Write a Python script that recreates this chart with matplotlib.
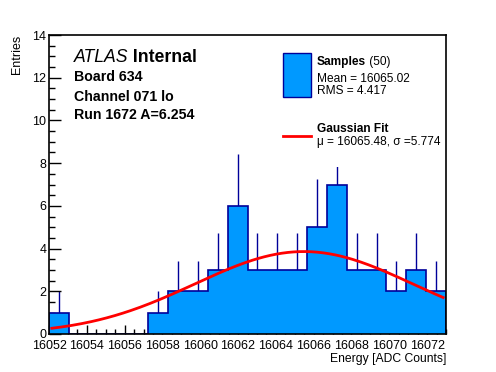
import numpy as np
import matplotlib
matplotlib.use("Agg")
import matplotlib.pyplot as plt
from matplotlib.patches import Rectangle
from matplotlib.lines import Line2D
from matplotlib.ticker import MultipleLocator

plt.rcParams["font.family"] = ["Liberation Sans", "DejaVu Sans"]

# ---- data ----
x_low, x_high, n_bins = 16052, 16073, 20
counts = [1, 0, 0, 0, 0, 1, 2, 2, 3, 6, 3, 3, 3, 5, 7, 3, 3, 2, 3, 2]
fit_mu = 16065.48
fit_sigma = 5.774
fit_amp = 3.86
x_ticks = list(range(16052, 16073, 2))
y_ticks = list(range(0, 15, 2))

fill_col = "#0099ff"
edge_col = "#000099"

fig = plt.figure(figsize=(4.96, 3.72), dpi=100)
ax = fig.add_axes([49 / 496, 38 / 372, 397 / 496, 299 / 372])

edges = np.linspace(x_low, x_high, n_bins + 1)
centers = 0.5 * (edges[:-1] + edges[1:])
c = np.array(counts, dtype=float)
nz = c > 0

# error bars (lower half hidden by the fill, like ROOT)
ax.vlines(centers[nz], c[nz] - np.sqrt(c[nz]), c[nz] + np.sqrt(c[nz]),
          color=edge_col, lw=1, zorder=1)
ax.stairs(c, edges, fill=True, color=fill_col, zorder=2)
ax.stairs(c, edges, color=edge_col, lw=1.2, baseline=0, zorder=2.5)

# gaussian fit curve
xf = np.linspace(x_low + 0.15, x_high - 0.15, 200)
yf = fit_amp * np.exp(-0.5 * ((xf - fit_mu) / fit_sigma) ** 2)
ax.plot(xf, yf, color="#ff0000", lw=2, zorder=3)

ax.set_xlim(x_low, x_high)
ax.set_ylim(0, 14)
ax.set_xticks(x_ticks)
ax.set_yticks(y_ticks)
ax.xaxis.set_minor_locator(MultipleLocator(0.5))
ax.yaxis.set_minor_locator(MultipleLocator(0.5))
ax.tick_params(axis="x", which="major", direction="in", length=6.5, width=1,
               labelsize=9, pad=4.5)
ax.tick_params(axis="x", which="minor", direction="in", length=3.3, width=1)
ax.tick_params(axis="y", which="major", direction="in", length=8.6, width=1,
               labelsize=9, pad=2)
ax.tick_params(axis="y", which="minor", direction="in", length=4.3, width=1)
for s in ax.spines.values():
    s.set_linewidth(1.2)

fig.text(17 / 496, 1 - 35 / 372, "Entries", rotation=90, ha="center",
         va="top", fontsize=9)
fig.text(446 / 496, 1 - 359 / 372, "Energy [ADC Counts]", ha="right",
         va="center", fontsize=8.7)

# ---- ATLAS labels ----
t = ax.text(0.062, 0.926, "ATLAS", transform=ax.transAxes, fontsize=12.7,
            style="italic", va="center", zorder=6)
ax.annotate(" Internal", xy=(1, 0), xycoords=t, va="bottom", fontsize=12.7,
            fontweight="bold", zorder=6)
for yy, txt in [(0.86, "Board 634"), (0.793, "Channel 071 lo"),
                (0.732, "Run 1672 A=6.254")]:
    ax.text(0.062, yy, txt, transform=ax.transAxes, fontsize=10.2,
            fontweight="bold", va="center", zorder=6)

# ---- legend, drawn by hand ----
ax.add_patch(Rectangle((0.56, 0.558), 0.43, 0.41, transform=ax.transAxes,
                       facecolor="white", edgecolor="none", zorder=4))
ax.add_patch(Rectangle((0.589, 0.793), 0.071, 0.147, transform=ax.transAxes,
                       facecolor=fill_col, edgecolor=edge_col, lw=1, zorder=5))
ax.add_line(Line2D([0.589, 0.660], [0.663, 0.663], transform=ax.transAxes,
                   color="#ff0000", lw=2, zorder=5))
t1 = ax.text(0.675, 0.91, "Samples", transform=ax.transAxes, fontsize=8.6,
             fontweight="bold", va="center", zorder=6)
ax.annotate(" (50)", xy=(1, 0), xycoords=t1, va="bottom", fontsize=8.6,
            zorder=6)
ax.text(0.675, 0.853, "Mean = 16065.02", transform=ax.transAxes,
        fontsize=8.6, va="center", zorder=6)
ax.text(0.675, 0.813, "RMS = 4.417", transform=ax.transAxes,
        fontsize=8.6, va="center", zorder=6)
ax.text(0.675, 0.686, "Gaussian Fit", transform=ax.transAxes, fontsize=8.6,
        fontweight="bold", va="center", zorder=6)
ax.text(0.675, 0.643, "\u03bc = 16065.48, \u03c3 =5.774", transform=ax.transAxes,
        fontsize=8.6, va="center", zorder=6)

fig.savefig("out.png", dpi=100)
